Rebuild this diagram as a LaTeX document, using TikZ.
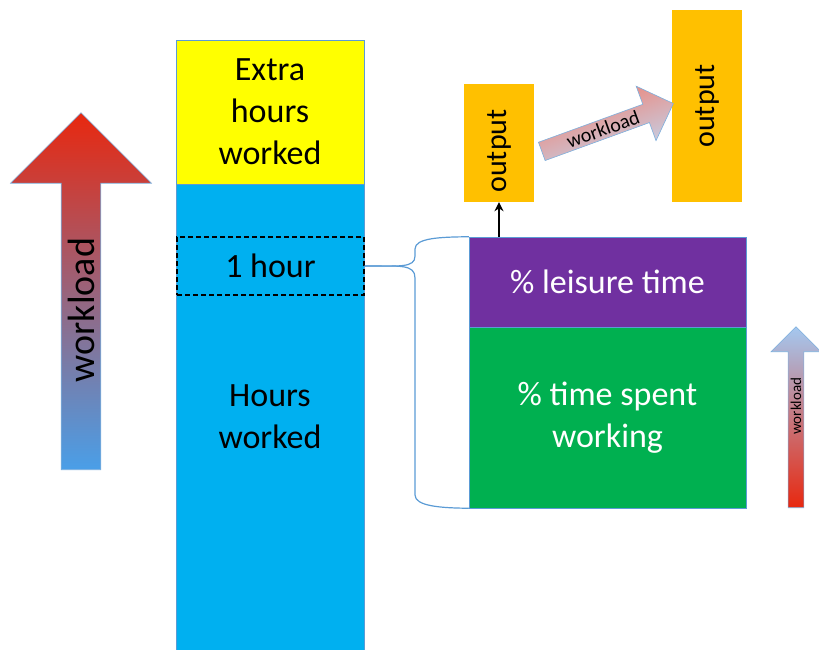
\documentclass[tikz,border=0pt]{standalone}
\usepackage{fontspec}
\setmainfont{Carlito}
\usetikzlibrary{shapes.arrows,arrows.meta}
\definecolor{hourblue}{HTML}{00B0F0}
\definecolor{extrayellow}{HTML}{FFFF00}
\definecolor{leisurepurple}{HTML}{7030A0}
\definecolor{workgreen}{HTML}{00B050}
\definecolor{outorange}{HTML}{FFC000}
\definecolor{edgeblue}{HTML}{5B9BD5}
\definecolor{loadred}{HTML}{E8280F}
\definecolor{loadblue}{HTML}{4A9FE8}
\definecolor{paleblue}{HTML}{A4C8F0}
\definecolor{salmon}{HTML}{F27C6C}
\definecolor{mistblue}{HTML}{C2D6EE}

\begin{document}
\begin{tikzpicture}[x=1pt,y=-1pt,
  bar/.style={draw=edgeblue, line width=0.5pt, inner sep=0pt, align=center,
    font=\fontsize{34}{42}\selectfont},
  outbox/.style={fill=outorange, inner sep=0pt, rotate=90,
    font=\fontsize{30}{36}\selectfont},
  loadarrow/.style={single arrow, draw=edgeblue!80, line width=0.6pt,
    inner sep=0pt, anchor=tail}]
\useasboundingbox (0,0) rectangle (819,650);
\node[bar, fill=hourblue, minimum width=188pt, minimum height=466pt] (hours) at (270,417) {Hours\\worked};
\node[bar, fill=extrayellow, minimum width=188pt, minimum height=144pt] (extra) at (270,112) {Extra\\hours\\worked};
\node[bar, draw=black, dash pattern=on 5pt off 3pt, line width=1.2pt, minimum width=187pt, minimum height=58pt] (onehour) at (270.5,266) {1 hour};
\node[bar, fill=leisurepurple, text=white, minimum width=277pt, minimum height=90pt] (leisure) at (607.5,282) {\% leisure time};
\node[bar, fill=workgreen, text=white, minimum width=277pt, minimum height=181pt] (working) at (607.5,417.5) {\% time spent\\working};
\node[outbox, minimum width=118pt, minimum height=70pt] (out1) at (499,143) {output\hspace*{16pt}};
\node[outbox, minimum width=192pt, minimum height=70pt] (out2) at (707,106) {output};
% workload arrows
\node[loadarrow, rotate=90, top color=loadred, bottom color=loadblue,
  minimum height=357pt, minimum width=141pt, single arrow head extend=35pt,
  font=\fontsize{38}{44}\selectfont] (bigload) at (81,470) {workload\hspace*{18pt}};
\node[loadarrow, rotate=90, top color=paleblue, bottom color=loadred,
  minimum height=181pt, minimum width=50pt, single arrow head extend=12pt,
  font=\fontsize{15}{18}\selectfont] (smallload) at (796,508) {\hspace*{30pt}workload};
\node[loadarrow, rotate=20, top color=salmon, bottom color=mistblue, shading angle=20,
  minimum height=140pt, minimum width=58pt, single arrow head extend=14.5pt,
  font=\fontsize{20}{24}\selectfont] (midload) at (541.5,151.5) {workload};
% brace
\draw[edgeblue, line width=1.2pt] (onehour.east) .. controls (400,266) and (415,268) .. (415,256)
  -- (415,249) .. controls (415,238) and (440,237) .. (leisure.north west);
\draw[edgeblue, line width=1.2pt] (onehour.east) .. controls (400,266) and (415,264) .. (415,278)
  -- (415,495) .. controls (415,506) and (440,508) .. (working.south west);
\draw[-{Stealth[length=9pt,width=9pt]}, line width=1.5pt] (leisure.north -| out1.west) -- (out1.west);
\end{tikzpicture}
\end{document}
